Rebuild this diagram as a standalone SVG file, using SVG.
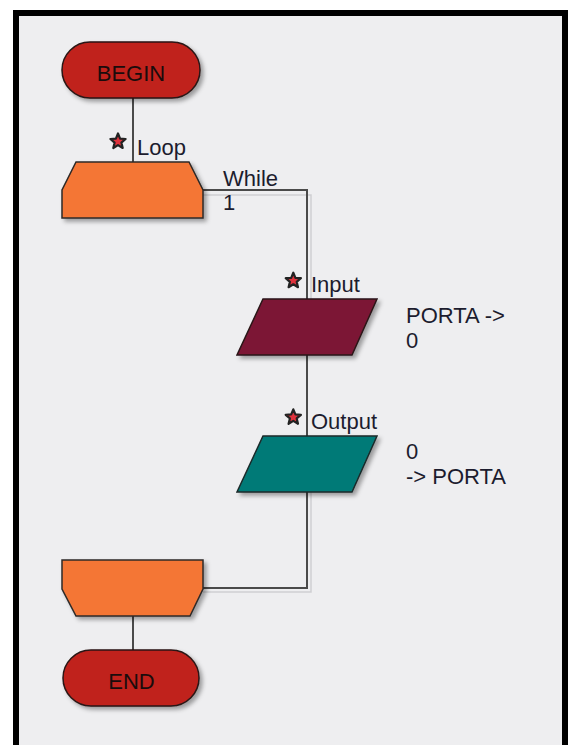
<svg xmlns="http://www.w3.org/2000/svg" width="571" height="745" viewBox="0 0 571 745">
<style>
.txt{font-family:"Liberation Sans",Arial,sans-serif;font-size:22px;fill:#1c1c2e}
.term{fill:#C0231E;stroke:#2a1614;stroke-width:1.5}
.loop{fill:#F47636;stroke:#2e2a28;stroke-width:1.5}
.conn{fill:none;stroke:#4a4a4a;stroke-width:2}
.shad{fill:none;stroke:#cfcfd2;stroke-width:1.5}
.star{fill:#E0323C;stroke:#222;stroke-width:2.2;stroke-linejoin:round}
</style>
<defs>
<filter id="ds" x="-20%" y="-20%" width="150%" height="150%">
<feDropShadow dx="3" dy="3" stdDeviation="2" flood-color="#000" flood-opacity="0.35"/>
</filter>
<path id="star" d="M0,-8 L2.1,-2.9 L7.6,-2.5 L3.4,1.1 L4.7,6.5 L0,3.6 L-4.7,6.5 L-3.4,1.1 L-7.6,-2.5 L-2.1,-2.9 Z"/>
</defs>
<rect x="0" y="0" width="571" height="745" fill="#ffffff"/>
<rect x="16" y="13" width="549" height="740" fill="#EEEEF0" stroke="#000" stroke-width="6"/>
<g id="connectors">
<polyline class="shad" points="203,195 311,195 311,299"/>
<polyline class="shad" points="311,492 311,592 203,592"/>
<line class="conn" x1="133" y1="98" x2="133" y2="162"/>
<polyline class="conn" points="203,190 307,190 307,299"/>
<line class="conn" x1="307" y1="355" x2="307" y2="436"/>
<polyline class="conn" points="307,492 307,588 203,588"/>
<line class="conn" x1="133" y1="616" x2="133" y2="650"/>
</g>
<g id="begin">
<rect class="term" x="62" y="42" width="138" height="56" rx="28" filter="url(#ds)"/>
<text class="txt" x="131" y="81" text-anchor="middle" style="fill:#1a0c0c">BEGIN</text>
</g>
<g id="loop">
<polygon class="loop" points="76,162 189,162 203,190 203,218 62,218 62,190" filter="url(#ds)"/>
<use href="#star" x="118" y="141.5" class="star"/>
<text class="txt" x="137" y="155">Loop</text>
<text class="txt" x="223" y="186">While</text>
<text class="txt" x="223" y="210">1</text>
</g>
<g id="input">
<polygon points="263,299 377,299 352,355 237,355" fill="#7C1535" stroke="#2a1418" stroke-width="1.5" filter="url(#ds)"/>
<use href="#star" x="293.3" y="280.7" class="star"/>
<text class="txt" x="311" y="292">Input</text>
<text class="txt" x="406" y="323">PORTA -&gt;</text>
<text class="txt" x="406" y="348">0</text>
</g>
<g id="output">
<polygon points="263,436 377,436 352,492 237,492" fill="#067A77" stroke="#1a2a2a" stroke-width="1.5" filter="url(#ds)"/>
<use href="#star" x="293.3" y="417.3" class="star"/>
<text class="txt" x="311" y="429">Output</text>
<text class="txt" x="406" y="459">0</text>
<text class="txt" x="406" y="484">-&gt; PORTA</text>
</g>
<g id="loopend">
<polygon class="loop" points="62,560 203,560 203,589 190,616 76,616 62,589" filter="url(#ds)"/>
</g>
<g id="end">
<rect class="term" x="63" y="650" width="136" height="56" rx="28" filter="url(#ds)"/>
<text class="txt" x="131.5" y="689" text-anchor="middle" style="fill:#1a0c0c">END</text>
</g>
</svg>
